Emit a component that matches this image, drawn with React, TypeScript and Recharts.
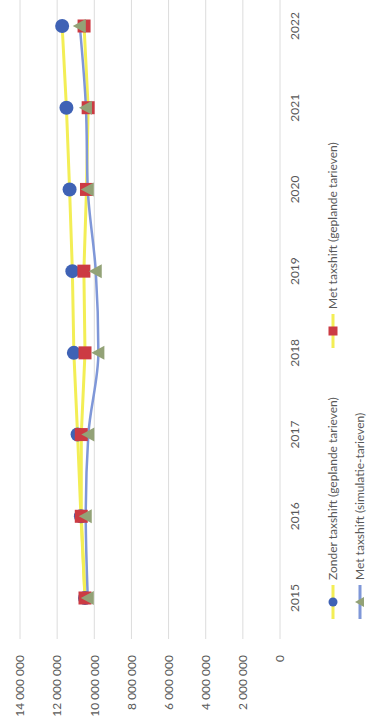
// Taxshift-grafiek: Excel-lijngrafiek die in de scan een kwartslag gedraaid staat.
// We tekenen hem liggend (750x374) en draaien het geheel -90 graden.
import { CartesianGrid, Line, LineChart, XAxis, YAxis } from "recharts";

const jaren = ["2015", "2016", "2017", "2018", "2019", "2020", "2021", "2022"];
const zonderTaxshift = [10500000, 10720000, 10900000, 11100000, 11180000, 11330000, 11500000, 11730000];
const metTaxshiftGepland = [10500000, 10700000, 10700000, 10500000, 10560000, 10420000, 10330000, 10550000];
const metTaxshiftSimulatie = [10350000, 10460000, 10320000, 9780000, 9920000, 10350000, 10450000, 10780000];
const waardeTicks = [0, 2000000, 4000000, 6000000, 8000000, 10000000, 12000000, 14000000];

const namen = {
  zonder: "Zonder taxshift (geplande tarieven)",
  gepland: "Met taxshift (geplande tarieven)",
  simulatie: "Met taxshift (simulatie-tarieven)",
};

const kleuren = {
  geel: "#F3EE55",
  blauwLijn: "#7F97D8",
  cirkel: "#3F62B5",
  vierkant: "#CC3B43",
  driehoek: "#93A277",
  tekst: "#595959",
  raster: "#DCDCDC",
};

const dados = jaren.map((jaar, i) => ({
  jaar,
  zonder: zonderTaxshift[i],
  gepland: metTaxshiftGepland[i],
  simulatie: metTaxshiftSimulatie[i],
}));

// Excel toont duizendtallen met een spatie: 14 000 000
const metSpaties = (v: number) => String(v).replace(/\B(?=(\d{3})+(?!\d))/g, " ");

function Cirkel({ cx, cy, r = 7 }: { cx?: number; cy?: number; r?: number }) {
  if (cx == null || cy == null) return null;
  return <circle cx={cx} cy={cy} r={r} fill={kleuren.cirkel} />;
}

function Vierkant({ cx, cy, s = 6.5 }: { cx?: number; cy?: number; s?: number }) {
  if (cx == null || cy == null) return null;
  return <rect x={cx - s} y={cy - s} width={2 * s} height={2 * s} fill={kleuren.vierkant} />;
}

function Driehoek({ cx, cy, s = 7 }: { cx?: number; cy?: number; s?: number }) {
  if (cx == null || cy == null) return null;
  return <polygon points={`${cx},${cy - s} ${cx + s},${cy + s - 1} ${cx - s},${cy + s - 1}`} fill={kleuren.driehoek} />;
}

function LegendaIcoon({ lijn, marker }: { lijn: string; marker: "cirkel" | "vierkant" | "driehoek" }) {
  return (
    <svg width={34} height={12} style={{ display: "block" }}>
      <line x1={0} y1={6} x2={34} y2={6} stroke={lijn} strokeWidth={3} />
      {marker === "cirkel" && <Cirkel cx={17} cy={6} r={4.5} />}
      {marker === "vierkant" && <Vierkant cx={17} cy={6} s={4.5} />}
      {marker === "driehoek" && <Driehoek cx={17} cy={6} s={5} />}
    </svg>
  );
}

function LegendaItem({ naam, lijn, marker, left, top }: {
  naam: string; lijn: string; marker: "cirkel" | "vierkant" | "driehoek"; left: number; top: number;
}) {
  return (
    <div style={{ position: "absolute", left, top, display: "flex", alignItems: "center", gap: 5, whiteSpace: "nowrap" }}>
      <LegendaIcoon lijn={lijn} marker={marker} />
      <span style={{ fontSize: 12, lineHeight: "16px", color: kleuren.tekst }}>{naam}</span>
    </div>
  );
}

export default function App() {
  return (
    <div style={{ position: "fixed", left: 0, top: 0, width: 374, height: 727, overflow: "hidden", background: "#fff" }}>
      <div
        style={{
          position: "absolute", left: 0, top: 0, width: 750, height: 374,
          transformOrigin: "0 0", transform: "translate(0px, 727px) rotate(-90deg)",
          fontFamily: "Lato, 'Open Sans', sans-serif",
        }}
      >
        <LineChart width={750} height={374} data={dados} margin={{ top: 20, right: 8, left: 0, bottom: 64 }}>
          <CartesianGrid vertical={false} stroke={kleuren.raster} />
          <XAxis
            dataKey="jaar"
            padding={{ left: 41, right: 41 }}
            axisLine={false}
            tickLine={false}
            height={30}
            tickMargin={4}
            tick={{ fill: kleuren.tekst, fontSize: 12 }}
          />
          <YAxis
            domain={[0, 14000000]}
            ticks={waardeTicks}
            width={88}
            axisLine={false}
            tickLine={false}
            tickMargin={10}
            tickFormatter={metSpaties}
            tick={{ fill: kleuren.tekst, fontSize: 12 }}
          />
          <Line
            dataKey="zonder"
            name={namen.zonder}
            type="linear"
            stroke={kleuren.geel}
            strokeWidth={3}
            dot={(p: any) => <Cirkel key={`c${p.index}`} cx={p.cx} cy={p.cy} />}
            isAnimationActive={false}
          />
          <Line
            dataKey="gepland"
            name={namen.gepland}
            type="linear"
            stroke={kleuren.geel}
            strokeWidth={3}
            dot={(p: any) => <Vierkant key={`v${p.index}`} cx={p.cx} cy={p.cy} />}
            isAnimationActive={false}
          />
          <Line
            dataKey="simulatie"
            name={namen.simulatie}
            type="monotone"
            stroke={kleuren.blauwLijn}
            strokeWidth={2.5}
            dot={(p: any) => <Driehoek key={`d${p.index}`} cx={p.cx} cy={p.cy} />}
            isAnimationActive={false}
          />
        </LineChart>
        <LegendaItem naam={namen.zonder} lijn={kleuren.geel} marker="cirkel" left={108} top={325} />
        <LegendaItem naam={namen.gepland} lijn={kleuren.geel} marker="vierkant" left={379} top={325} />
        <LegendaItem naam={namen.simulatie} lijn={kleuren.blauwLijn} marker="driehoek" left={108} top={352} />
      </div>
    </div>
  );
}
